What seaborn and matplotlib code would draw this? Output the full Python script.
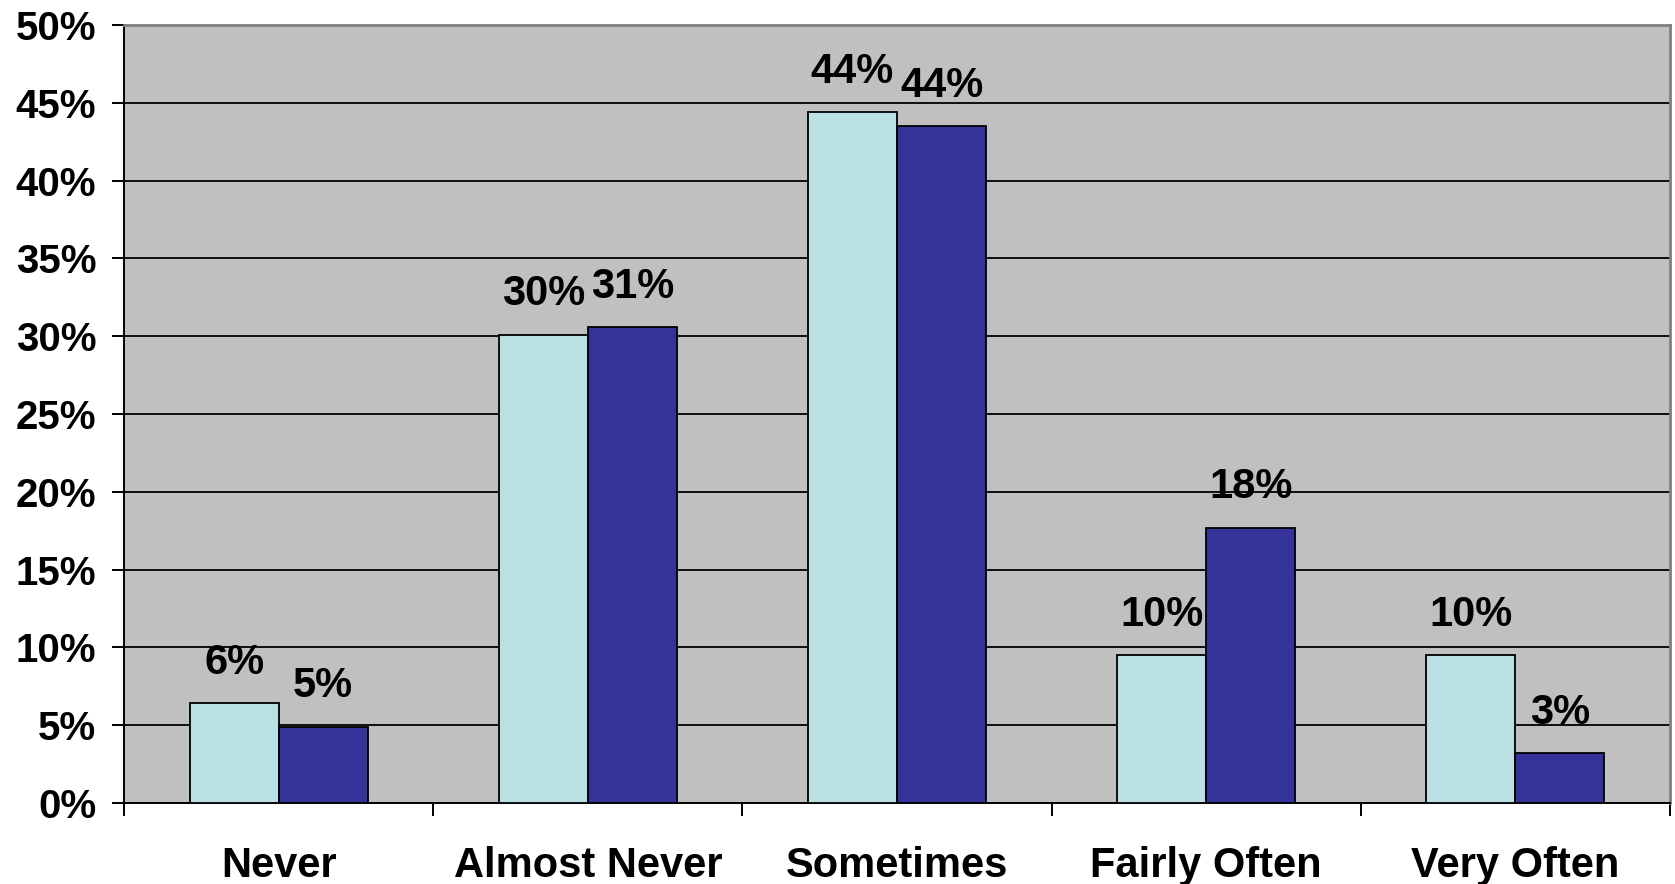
import numpy as np
import pandas as pd
import matplotlib
matplotlib.use("Agg")
import matplotlib.pyplot as plt
import seaborn as sns
from matplotlib.ticker import FixedLocator, PercentFormatter

# Response categories and the share of respondents in each (percent)
categories = ["Never", "Almost Never", "Sometimes", "Fairly Often", "Very Often"]
group_1 = [6.4, 30.1, 44.4, 9.5, 9.5]
group_2 = [4.9, 30.6, 43.5, 17.7, 3.2]
series_names = ["Group 1", "Group 2"]
y_ticks = [0, 5, 10, 15, 20, 25, 30, 35, 40, 45, 50]

colors = ["#BBE0E3", "#333399"]

df = pd.DataFrame({
    "category": categories * 2,
    "value": group_1 + group_2,
    "series": [series_names[0]] * len(categories) + [series_names[1]] * len(categories),
})

sns.set_theme(style="white")
plt.rcParams["font.family"] = ["Liberation Sans", "DejaVu Sans"]
plt.rcParams["font.weight"] = "bold"
plt.rcParams["text.color"] = "black"
plt.rcParams["xtick.color"] = "black"
plt.rcParams["ytick.color"] = "black"

fig = plt.figure(figsize=(16.75, 8.84), dpi=100)
ax = fig.add_axes([124 / 1675, 81 / 884, (1670 - 124) / 1675, (803 - 25) / 884])
ax.set_facecolor("#C0C0C0")

sns.barplot(
    data=df, x="category", y="value", hue="series", order=categories,
    hue_order=series_names, palette=colors, saturation=1, width=0.576, gap=0,
    edgecolor="black", linewidth=1.3, legend=False, ax=ax, zorder=3,
    errorbar=None,
)

ax.set_xlim(-0.5, len(categories) - 0.5)
ax.set_ylim(0, 50)

# Horizontal gridlines behind the bars
ax.set_axisbelow(True)
ax.yaxis.set_major_locator(FixedLocator(y_ticks))
ax.yaxis.set_major_formatter(PercentFormatter(decimals=0))
ax.grid(axis="y", color="black", linewidth=1.3, zorder=0)
ax.grid(axis="x", visible=False)

# Value labels above each bar
for container in ax.containers:
    for patch in container:
        h = patch.get_height()
        ax.annotate(
            f"{int(np.floor(h + 0.5))}%",
            xy=(patch.get_x() + patch.get_width() / 2, h),
            xytext=(0, 29), textcoords="offset points",
            ha="center", va="center", fontsize=30, fontweight="bold",
            color="black", zorder=5,
        )

# Category labels centred, tick marks at category boundaries
ax.set_xticks(range(len(categories)))
ax.set_xticklabels(categories, fontsize=30, fontweight="bold")
ax.set_xticks(np.arange(-0.5, len(categories)), minor=True)
ax.tick_params(axis="x", which="major", length=0, pad=31, labelcolor="black")
ax.tick_params(axis="x", which="minor", length=9, width=1.4, color="black",
               direction="out", bottom=True)
ax.tick_params(axis="y", which="major", length=9, width=1.4, color="black",
               direction="out", left=True, pad=11, labelsize=29,
               labelcolor="black")
for lab in ax.get_yticklabels():
    lab.set_fontweight("bold")

ax.set_xlabel("")
ax.set_ylabel("")

for side in ["left", "bottom"]:
    ax.spines[side].set_color("black")
    ax.spines[side].set_linewidth(1.4)
for side in ["top", "right"]:
    ax.spines[side].set_visible(True)
    ax.spines[side].set_color("#808080")
    ax.spines[side].set_linewidth(2)

fig.savefig("out.png", dpi=100, facecolor="white")
